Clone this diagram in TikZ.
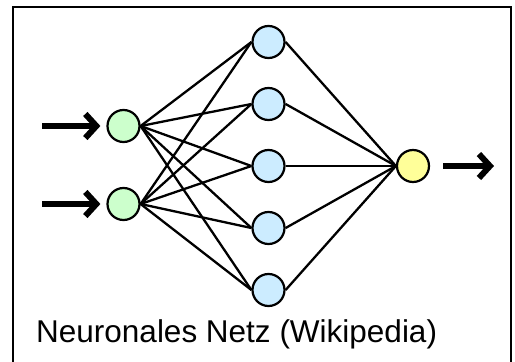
\documentclass[tikz,border=0pt]{standalone}
\usepackage{fontspec}
\setmainfont{Liberation Sans}
\usetikzlibrary{arrows.meta}
\definecolor{ingreen}{HTML}{CCFFCC}
\definecolor{hidblue}{HTML}{CCECFF}
\definecolor{outyellow}{HTML}{FFFF99}
\begin{document}
\begin{tikzpicture}[x=1pt,y=-1pt,
  neuron/.style={circle,draw=black,line width=2.2pt,minimum size=32pt,inner sep=0pt},
  synapse/.style={line width=2.3pt,black},
  signal/.style={line width=6pt,-{Straight Barb[length=11pt,width=24pt,line width=6pt]}}]
  \useasboundingbox (0,0) rectangle (515,362);
  % frame
  \draw[line width=1.6pt] (13,375) -- (13,7) -- (511,7) -- (511,375);
  % input layer
  \node[neuron,fill=ingreen] (i1) at (123.5,126) {};
  \node[neuron,fill=ingreen] (i2) at (123.5,204) {};
  % hidden layer
  \foreach \k/\y in {1/42,2/104,3/166,4/228,5/290}
    \node[neuron,fill=hidblue] (h\k) at (268.5,\y) {};
  % output neuron
  \node[neuron,fill=outyellow] (o) at (413,166) {};
  % weighted connections
  \foreach \i in {1,2}
    \foreach \k in {1,...,5}
      \draw[synapse] (i\i.east) -- (h\k.west);
  \foreach \k in {1,...,5}
    \draw[synapse] (h\k.east) -- (o.west);
  % input and output signals
  \coordinate (a1) at (42,126);
  \coordinate (a2) at (42,204);
  \coordinate (b) at (494,166);
  \draw[signal] (a1) -- ([xshift=-6pt]i1.west);
  \draw[signal] (a2) -- ([xshift=-6pt]i2.west);
  \draw[signal] ([xshift=13pt]o.east) -- (b);
  % caption
  \node[anchor=base west,font=\fontsize{31.5}{36}\selectfont,inner sep=0pt] (cap) at (36,342) {Neuronales Netz (Wikipedia)};
\end{tikzpicture}
\end{document}
